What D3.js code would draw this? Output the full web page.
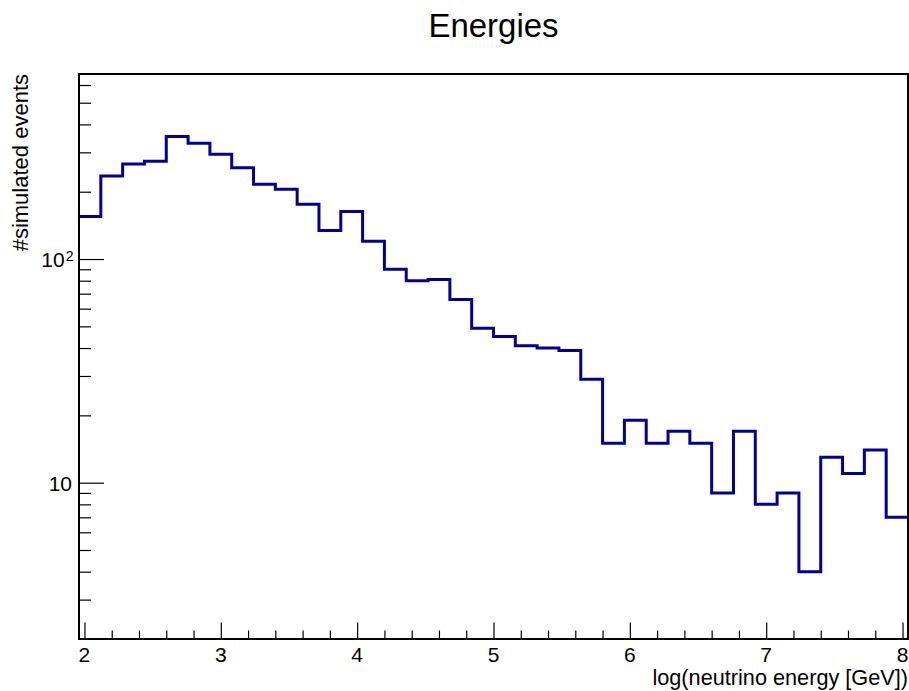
<!DOCTYPE html>
<html>
<head>
<meta charset="utf-8">
<script src="https://cdn.jsdelivr.net/npm/d3@7"></script>
<style>
  body { margin: 0; background: #fff; }
  text { font-family: "Liberation Sans", Arial, Helvetica, sans-serif; fill: #000; }
</style>
</head>
<body>
<div id="chart"></div>
<script>

// histogram: 38 bins of width 0.16 starting at 1.96
var binLow = 1.96;
var binWidth = 0.16;
var counts = [155, 235, 266, 274, 353, 329, 294, 256, 216, 205,
              176, 134, 163, 120, 90, 80, 81, 66, 49, 45,
              41, 40, 39, 29, 15, 19, 15, 17, 15, 9,
              17, 8, 9, 4, 13, 11, 14, 7];

var xMajorTicks = [2, 3, 4, 5, 6, 7, 8];
var yMajorTicks = [10, 100];
var yMinorTicks = [3, 4, 5, 6, 7, 8, 9, 20, 30, 40, 50, 60, 70, 80, 90, 200, 300, 400, 500, 600];

var W = 909, H = 691;
var frameL = 79, frameR = 908, frameT = 74, frameB = 639;

var svg = d3.select('#chart').append('svg')
  .attr('width', W)
  .attr('height', H);

var xScale = d3.scaleLinear()
  .domain([binLow, binLow + binWidth * counts.length])
  .range([frameL, frameR]);

var yScale = d3.scaleLog()
  .domain([2, 672])
  .range([frameB, frameT]);

// title
svg.append('text')
  .attr('x', (frameL + frameR) / 2)
  .attr('y', 36.5)
  .attr('text-anchor', 'middle')
  .style('font-size', '33px')
  .text('Energies');

// x axis: major + minor ticks drawn upward inside the frame
var xMinor = d3.range(20, 81, 2).map(function(d) { return d / 10; })
  .filter(function(d) { return xMajorTicks.indexOf(d) < 0; });

var xAxisMajor = d3.axisTop(xScale).tickValues(xMajorTicks).tickSize(16.5).tickFormat('');
var xAxisMinor = d3.axisTop(xScale).tickValues(xMinor).tickSize(8.5).tickFormat('');

[xAxisMajor, xAxisMinor].forEach(function(ax) {
  var g = svg.append('g')
    .attr('transform', 'translate(0,' + frameB + ')')
    .call(ax);
  g.select('.domain').remove();
  g.selectAll('line').attr('stroke', '#000').attr('stroke-width', 1.2);
});

svg.append('g').selectAll('text')
  .data(xMajorTicks)
  .enter()
  .append('text')
  .attr('x', function(d) { return xScale(d); })
  .attr('y', 661.5)
  .attr('text-anchor', 'middle')
  .style('font-size', '21px')
  .text(function(d) { return d; });

// y axis: ticks drawn rightward inside the frame
var yAxisMajor = d3.axisRight(yScale).tickValues(yMajorTicks).tickSize(25).tickFormat('');
var yAxisMinor = d3.axisRight(yScale).tickValues(yMinorTicks).tickSize(12).tickFormat('');

[yAxisMajor, yAxisMinor].forEach(function(ax) {
  var g = svg.append('g')
    .attr('transform', 'translate(' + frameL + ',0)')
    .call(ax);
  g.select('.domain').remove();
  g.selectAll('line').attr('stroke', '#000').attr('stroke-width', 1.2);
});

svg.append('text')
  .attr('x', 72)
  .attr('y', yScale(10) + 8)
  .attr('text-anchor', 'end')
  .style('font-size', '21px')
  .text('10');

var lab100 = svg.append('text')
  .attr('x', 73.5)
  .attr('y', yScale(100) + 8.3)
  .attr('text-anchor', 'end')
  .style('font-size', '21px');
lab100.append('tspan').text('10');
lab100.append('tspan')
  .attr('dy', -6.5)
  .attr('dx', 1)
  .style('font-size', '14px')
  .text('2');

// axis titles
svg.append('text')
  .attr('x', frameR)
  .attr('y', 684.5)
  .attr('text-anchor', 'end')
  .style('font-size', '21.7px')
  .text('log(neutrino energy [GeV])');

svg.append('text')
  .attr('transform', 'translate(28.3,' + frameT + ') rotate(-90)')
  .attr('text-anchor', 'end')
  .style('font-size', '22px')
  .text('#simulated events');

// histogram outline
var pts = counts.map(function(c, i) {
  return { x: binLow + i * binWidth, y: c };
});
pts.push({ x: binLow + counts.length * binWidth, y: counts[counts.length - 1] });

var histLine = d3.line()
  .x(function(d) { return xScale(d.x); })
  .y(function(d) { return yScale(d.y); })
  .curve(d3.curveStepAfter);

svg.append('path')
  .attr('d', histLine(pts))
  .attr('fill', 'none')
  .attr('stroke', '#000099')
  .attr('stroke-width', 3);

// frame
svg.append('rect')
  .attr('x', frameL)
  .attr('y', frameT)
  .attr('width', frameR - frameL)
  .attr('height', frameB - frameT)
  .attr('fill', 'none')
  .attr('stroke', '#000')
  .attr('stroke-width', 2);

</script>
</body>
</html>
